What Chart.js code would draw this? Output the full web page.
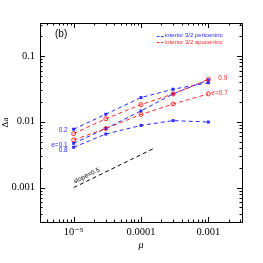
<!DOCTYPE html>
<html><head><meta charset="utf-8">
<script src="https://cdn.jsdelivr.net/npm/chart.js@4/dist/chart.umd.min.js"></script>
<style>html,body{margin:0;padding:0;background:#fff}#w{width:263px;height:263px}</style>
</head><body><div id="w"><canvas id="c" width="263" height="263"></canvas></div>
<script>
const mu = [1e-5, 3e-5, 1e-4, 3e-4, 1e-3];
const peri_e02 = [0.0077, 0.0130, 0.0233, 0.0312, 0.0392];
const peri_e01 = [0.0047, 0.0079, 0.0146, 0.0265, 0.0430];
const peri_e08 = [0.0041, 0.0065, 0.0088, 0.0104, 0.0099];
const apo_e09 = [0.0066, 0.0111, 0.0182, 0.0265, 0.0440];
const apo_e07 = [0.0053, 0.0079, 0.0129, 0.0186, 0.0265];
const slopeX = [1e-5, 1.6e-4];
const slopeY = [0.001, 0.004];
const xTicks = [1e-5, 1e-4, 1e-3];
const xTickLabels = ['10\u207B\u2075', '0.0001', '0.001'];
const yTicks = [0.001, 0.01, 0.1];
const yTickLabels = ['0.001', '0.01', '0.1'];
const xRange = [Math.pow(10,-5.5), Math.pow(10,-2.5)];
const yRange = [Math.pow(10,-3.5), Math.pow(10,-0.5)];

const BLUE = 'rgb(40,40,255)';
const RED = 'rgb(255,40,40)';
const pts = (ys) => mu.map((m,i)=>({x:m,y:ys[i]}));
const blueDs = (ys) => ({data:pts(ys), borderColor:BLUE, backgroundColor:BLUE, borderWidth:1, borderDash:[4,3],
  pointStyle:'rect', pointRadius:2.1, pointBorderWidth:0, showLine:true});
const redDs = (ys) => ({data:pts(ys), borderColor:RED, backgroundColor:'rgba(255,255,255,0)', borderWidth:1, borderDash:[4,3],
  pointStyle:'circle', pointRadius:2, pointBorderWidth:1, showLine:true});

const serif = '"Liberation Serif", "DejaVu Serif", serif';
const sans = '"Liberation Sans", Arial, sans-serif';

const deco = {
  id:'deco',
  afterDraw(chart){
    const ctx = chart.ctx, a = chart.chartArea, xs = chart.scales.x, ys = chart.scales.y;
    ctx.save();
    ctx.strokeStyle = '#000'; ctx.lineWidth = 1;
    ctx.strokeRect(Math.round(a.left)+0.5, Math.round(a.top)+0.5, Math.round(a.right-a.left), Math.round(a.bottom-a.top));
    const majL = 5, minL = 2.5;
    ctx.beginPath();
    for (let d=-6; d<=-2; d++) for (let k=1;k<=9;k++){
      const v = k*Math.pow(10,d);
      if (v<xRange[0]||v>xRange[1]) continue;
      const p = Math.round(xs.getPixelForValue(v))+0.5, L = k===1?majL:minL;
      ctx.moveTo(p,a.bottom); ctx.lineTo(p,a.bottom-L);
      ctx.moveTo(p,a.top); ctx.lineTo(p,a.top+L);
    }
    for (let d=-4; d<=-1; d++) for (let k=1;k<=9;k++){
      const v = k*Math.pow(10,d);
      if (v<yRange[0]||v>yRange[1]) continue;
      const p = Math.round(ys.getPixelForValue(v))+0.5, L = k===1?majL:minL;
      ctx.moveTo(a.left,p); ctx.lineTo(a.left+L,p);
      ctx.moveTo(a.right,p); ctx.lineTo(a.right-L,p);
    }
    ctx.stroke();
    ctx.fillStyle = '#000';
    ctx.font = 'italic 10px '+serif; ctx.textAlign='center'; ctx.textBaseline='middle';
    ctx.fillText('\u03BC', (a.left+a.right)/2, 245);
    ctx.save(); ctx.translate(6, (a.top+a.bottom)/2); ctx.rotate(-Math.PI/2);
    ctx.font = '9px '+serif; ctx.fillText('\u0394a', 0, 0); ctx.restore();
    ctx.font = '10px '+sans; ctx.textAlign='left';
    ctx.fillText('(b)', 55, 34);
    ctx.font = '6px '+sans; ctx.lineWidth = 1;
    const leg = [['interior 3/2 pericentric', BLUE, 35.5], ['interior 3/2 apocentric', RED, 42.3]];
    leg.forEach(([t,c,y])=>{
      ctx.strokeStyle = c; ctx.setLineDash([2.5,1.5]);
      ctx.beginPath(); ctx.moveTo(157,Math.round(y)+0.5); ctx.lineTo(164,Math.round(y)+0.5); ctx.stroke();
      ctx.setLineDash([]);
      ctx.fillStyle = c; ctx.fillText(t, 165, y);
    });
    ctx.font = '6.5px '+sans;
    ctx.fillStyle = BLUE; ctx.textAlign = 'right';
    const lx = xs.getPixelForValue(mu[0]) - 6;
    ctx.fillText('0.2', lx, ys.getPixelForValue(peri_e02[0]) + 0.5);
    ctx.fillText('e=0.1', lx, ys.getPixelForValue(peri_e01[0]) + 1.5);
    ctx.fillText('0.8', lx, ys.getPixelForValue(peri_e08[0]) + 3);
    ctx.fillStyle = RED; ctx.textAlign = 'left';
    const rx = xs.getPixelForValue(mu[4]) + 10;
    ctx.fillText('0.9', rx, ys.getPixelForValue(apo_e09[4]) - 1);
    ctx.fillText('e=0.7', rx - 7, ys.getPixelForValue(apo_e07[4]) - 0.5);
    const x0 = xs.getPixelForValue(slopeX[0]), y0 = ys.getPixelForValue(slopeY[0]);
    const x1 = xs.getPixelForValue(slopeX[1]), y1 = ys.getPixelForValue(slopeY[1]);
    const ang = Math.atan2(y1-y0, x1-x0);
    ctx.save(); ctx.translate(x0+1, y0-4); ctx.rotate(ang);
    ctx.fillStyle = '#000'; ctx.font = '6.5px '+sans; ctx.textAlign='left'; ctx.textBaseline='alphabetic';
    ctx.fillText('slope=0.5', 0, 0); ctx.restore();
    ctx.restore();
  }
};

new Chart(document.getElementById('c'), {
  type:'scatter',
  data:{datasets:[
    redDs(apo_e09), redDs(apo_e07),
    blueDs(peri_e02), blueDs(peri_e01), blueDs(peri_e08),
    {data:slopeX.map((x,i)=>({x, y:slopeY[i]})), borderColor:'#000', borderWidth:1, borderDash:[4,3], pointRadius:0, showLine:true}
  ]},
  options:{
    responsive:false, animation:false, devicePixelRatio:1,
    layout:{padding:{left:0, right:21, top:23, bottom:0}},
    plugins:{legend:{display:false}, tooltip:{enabled:false}},
    scales:{
      x:{type:'logarithmic', min:xRange[0], max:xRange[1],
        afterFit(s){ s.height = 41; },
        afterBuildTicks(s){ s.ticks = xTicks.map(v=>({value:v})); },
        grid:{display:false, drawTicks:false}, border:{display:false},
        ticks:{autoSkip:false, maxRotation:0, padding:4, color:'#000', font:{family:serif, size:10.5},
          callback:(v)=>{ const i = xTicks.findIndex(t=>Math.abs(t-v)/t<1e-6); return i>=0?xTickLabels[i]:''; }}},
      y:{type:'logarithmic', min:yRange[0], max:yRange[1],
        afterFit(s){ s.width = 40; },
        afterBuildTicks(s){ s.ticks = yTicks.map(v=>({value:v})); },
        grid:{display:false, drawTicks:false}, border:{display:false},
        ticks:{autoSkip:false, padding:5, color:'#000', font:{family:serif, size:10.5},
          callback:(v)=>{ const i = yTicks.findIndex(t=>Math.abs(t-v)/t<1e-6); return i>=0?yTickLabels[i]:''; }}}
    }
  },
  plugins:[deco]
});
</script></body></html>
